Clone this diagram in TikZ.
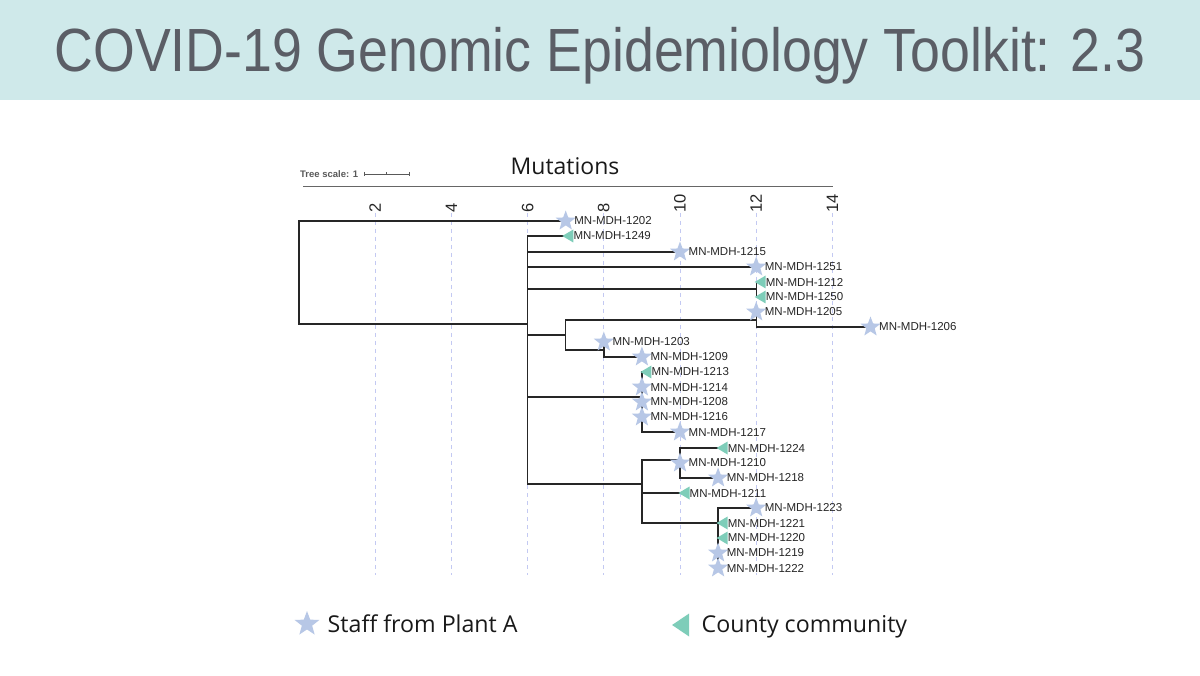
\documentclass[tikz,border=0pt]{standalone}
\usepackage{fontspec}
\setmainfont{Liberation Sans}
\newfontfamily\legendfont{Open Sans}
\usepackage{tikz}
\usetikzlibrary{shapes.geometric,positioning,backgrounds}

\definecolor{bandteal}{HTML}{CFE9EA}
\definecolor{titlegrey}{HTML}{5B5E66}
\definecolor{staffblue}{HTML}{B7C7E6}
\definecolor{countyteal}{HTML}{7ECDB9}
\definecolor{gridlav}{HTML}{C3C9F2}

\begin{document}
\begin{tikzpicture}
	[
		x=1pt, y=-1pt,
		branch/.style = {line width=1.4pt, color=black!85},
		elbow/.style = {to path={|- (\tikztotarget)}},
		staff/.style = {star, star points=5, star point ratio=2.4, minimum size=21pt, inner sep=0pt, fill=staffblue},
		county/.style = {isosceles triangle, shape border rotate=180, isosceles triangle stretches, minimum height=11pt, minimum width=13pt, inner sep=0pt, fill=countyteal, anchor=apex, xshift=-2pt},
		leaf/.style = {inner sep=0pt, font=\fontsize{11.5}{12}\selectfont, text=black!85},
		ticklabel/.style = {rotate=90, anchor=west, inner sep=0pt, font=\fontsize{16.5}{17}\selectfont, text=black!85},
		gridline/.style = {gridlav, dash pattern=on 4pt off 4pt, line width=0.8pt},
		legendtext/.style = {anchor=base west, inner sep=0pt, font=\legendfont\fontsize{23.2}{24}\selectfont, text=black!90},
	]

	\useasboundingbox (0,0) rectangle (1200,676);
	\begin{pgfonlayer}{background}
	\fill[white] (0,0) rectangle (1200,676);
	\end{pgfonlayer}
	\fill[bandteal] (0,0) rectangle (1200,100);
	\node[anchor=base, inner sep=0pt, xscale=0.88, font=\fontsize{61}{61}\selectfont, text=titlegrey] (title) at (600,72) {COVID-19 Genomic Epidemiology Toolkit: 2.3};

	\node[font=\legendfont\fontsize{23}{24}\selectfont, text=black!90] (mut) at (565,166) {Mutations};
	\node[anchor=west, inner sep=0pt, font=\bfseries\fontsize{9.5}{10}\selectfont, text=black!65] (tscale) at (300,174) {Tree scale: 1};
	\draw[black!65, line width=0.6pt] (364,174) -- (409,174) (364,172) -- (364,176) (386.5,172.5) -- (386.5,175.5) (409,172) -- (409,176);
	\draw[black!60, line width=1pt] (303,187) -- (833,187);

	\begin{scope}[x=38.1pt, xshift=299pt]
	\node[ticklabel] (tk2) at (2,213) {2};
	\node[ticklabel] (tk4) at (4,213) {4};
	\node[ticklabel] (tk6) at (6,213) {6};
	\node[ticklabel] (tk8) at (8,213) {8};
	\node[ticklabel] (tk10) at (10,213) {10};
	\node[ticklabel] (tk12) at (12,213) {12};
	\node[ticklabel] (tk14) at (14,213) {14};

	\coordinate (root) at (0,272);
	\coordinate (nA) at (6,324);
	\coordinate (nB) at (12,289);
	\coordinate (nC) at (7,335);
	\coordinate (nD) at (12,320);
	\coordinate (nE) at (8,350);
	\coordinate (nF) at (9,397);
	\coordinate (nG) at (9,484);
	\coordinate (nH) at (10,460);
	\coordinate (nI) at (11,523);

	\node[staff] (t1202) at (7,221) {};
	\node[county] (t1249) at (6.95,236) {};
	\node[staff] (t1215) at (10,252) {};
	\node[staff] (t1251) at (12,267) {};
	\node[county] (t1212) at (12,282) {};
	\node[county] (t1250) at (12,297) {};
	\node[staff] (t1205) at (12,312) {};
	\node[staff] (t1206) at (15,327) {};
	\node[staff] (t1203) at (8,342) {};
	\node[staff] (t1209) at (9,357) {};
	\node[county] (t1213) at (9,372) {};
	\node[staff] (t1214) at (9,387) {};
	\node[staff] (t1208) at (9,402) {};
	\node[staff] (t1216) at (9,417) {};
	\node[staff] (t1217) at (10,432) {};
	\node[county] (t1224) at (11,448) {};
	\node[staff] (t1210) at (10,463) {};
	\node[staff] (t1218) at (11,478) {};
	\node[county] (t1211) at (10,493) {};
	\node[staff] (t1223) at (12,508) {};
	\node[county] (t1221) at (11,523) {};
	\node[county] (t1220) at (11,538) {};
	\node[staff] (t1219) at (11,553) {};
	\node[staff] (t1222) at (11,568) {};

	\node[leaf, right=8.5pt of t1202.center] (n1202) {MN-MDH-1202};
	\node[leaf, right=11.5pt of t1249.apex] (n1249) {MN-MDH-1249};
	\node[leaf, right=8.5pt of t1215.center] (n1215) {MN-MDH-1215};
	\node[leaf, right=8.5pt of t1251.center] (n1251) {MN-MDH-1251};
	\node[leaf, right=11.5pt of t1212.apex] (n1212) {MN-MDH-1212};
	\node[leaf, right=11.5pt of t1250.apex] (n1250) {MN-MDH-1250};
	\node[leaf, right=8.5pt of t1205.center] (n1205) {MN-MDH-1205};
	\node[leaf, right=8.5pt of t1206.center] (n1206) {MN-MDH-1206};
	\node[leaf, right=8.5pt of t1203.center] (n1203) {MN-MDH-1203};
	\node[leaf, right=8.5pt of t1209.center] (n1209) {MN-MDH-1209};
	\node[leaf, right=11.5pt of t1213.apex] (n1213) {MN-MDH-1213};
	\node[leaf, right=8.5pt of t1214.center] (n1214) {MN-MDH-1214};
	\node[leaf, right=8.5pt of t1208.center] (n1208) {MN-MDH-1208};
	\node[leaf, right=8.5pt of t1216.center] (n1216) {MN-MDH-1216};
	\node[leaf, right=8.5pt of t1217.center] (n1217) {MN-MDH-1217};
	\node[leaf, right=11.5pt of t1224.apex] (n1224) {MN-MDH-1224};
	\node[leaf, right=8.5pt of t1210.center] (n1210) {MN-MDH-1210};
	\node[leaf, right=8.5pt of t1218.center] (n1218) {MN-MDH-1218};
	\node[leaf, right=11.5pt of t1211.apex] (n1211) {MN-MDH-1211};
	\node[leaf, right=8.5pt of t1223.center] (n1223) {MN-MDH-1223};
	\node[leaf, right=11.5pt of t1221.apex] (n1221) {MN-MDH-1221};
	\node[leaf, right=11.5pt of t1220.apex] (n1220) {MN-MDH-1220};
	\node[leaf, right=8.5pt of t1219.center] (n1219) {MN-MDH-1219};
	\node[leaf, right=8.5pt of t1222.center] (n1222) {MN-MDH-1222};

	\begin{pgfonlayer}{background}
	\draw[gridline] (2,213) -- (2,575) (4,213) -- (4,575) (6,213) -- (6,575) (8,213) -- (8,575) (10,213) -- (10,575) (12,213) -- (12,575) (14,213) -- (14,575);
	\path[branch, every edge/.append style={elbow, line cap=rect}]
	(root) edge (t1202.center) edge (nA)
	(nA) edge (t1249.center) edge (t1215.center) edge (t1251.center) edge (nB) edge (nC) edge (nF) edge (nG)
	(nB) edge (t1212.center) edge (t1250.center)
	(nC) edge (nD) edge (nE)
	(nD) edge (t1205.center) edge (t1206.center)
	(nE) edge (t1203.center) edge (t1209.center)
	(nF) edge (t1213.center) edge (t1214.center) edge (t1208.center) edge (t1216.center) edge (t1217.center)
	(nG) edge (nH) edge (t1211.center) edge (nI)
	(nH) edge (t1224.center) edge (t1210.center) edge (t1218.center)
	(nI) edge (t1223.center) edge (t1221.center) edge (t1220.center) edge (t1219.center) edge (t1222.center);
	\end{pgfonlayer}
	\end{scope}

	\node[staff, minimum size=26pt] (kstaff) at (307,624) {};
	\node[legendtext] (kstafftxt) at (327.5,632) {Staff from Plant A};
	\node[county, anchor=center, xshift=0pt, minimum height=17pt, minimum width=23pt] (kcounty) at (685,625) {};
	\node[legendtext] (kcountytxt) at (701.5,632) {County community};

\end{tikzpicture}
\end{document}
